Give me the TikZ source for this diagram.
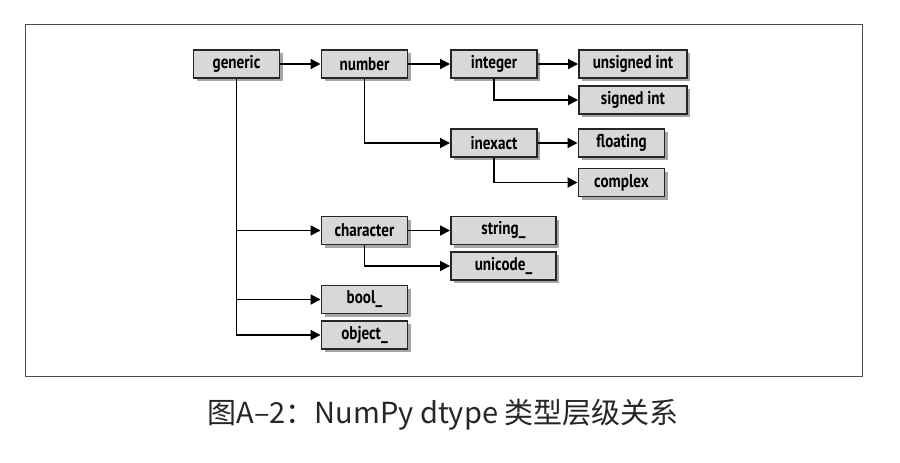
\documentclass[tikz,border=0pt]{standalone}
\usepackage{fontspec}
\setmainfont{PT Sans}[FakeStretch=0.82]
\newfontfamily\cjk{Noto Sans CJK SC}
\usetikzlibrary{calc}
\usetikzlibrary{positioning}
\usetikzlibrary{arrows.meta}
\usetikzlibrary{shadows}
\definecolor{boxgray}{RGB}{216,216,216}
\tikzstyle{typenode} = [draw=black!85, line width=1.1pt, fill=boxgray, minimum height=0.56cm, minimum width=1.72cm, inner sep=0pt, font=\fontsize{10.5}{12}\selectfont\bfseries, drop shadow={shadow xshift=0.06cm, shadow yshift=-0.06cm, opacity=0.35, fill=black}]
\tikzstyle{widenode} = [minimum width=2.16cm]
\tikzstyle{midnode} = [minimum width=2.1cm]
\tikzstyle{link} = [line width=1.05pt, -{Triangle[length=0.2cm, width=0.2cm]}]

\begin{document}
\begin{tikzpicture}
    \useasboundingbox (0,0) rectangle (18,-9.26);
    \draw[black!70, line width=0.5pt] (0.5,-0.48) rectangle (17.24,-7.52);
    \node[typenode] (n_generic) at (4.73,-1.28) {generic};
    \node[typenode] (n_number) at ($(n_generic)+(2.56,0)$) {number};
    \node[typenode] (n_integer) at ($(n_number)+(2.59,0)$) {integer};
    \node[typenode, widenode] (n_unsigned) at ($(n_integer)+(2.78,0)$) {unsigned int};
    \node[typenode, widenode] (n_signed) at ($(n_unsigned)+(0,-0.72)$) {signed int};
    \node[typenode] (n_inexact) at ($(n_integer)+(0,-1.58)$) {inexact};
    \node[typenode] (n_floating) at ($(n_inexact)+(2.55,0)$) {floating};
    \node[typenode] (n_complex) at ($(n_floating)+(0,-0.79)$) {complex};
    \node[typenode] (n_character) at ($(n_number)+(0,-3.33)$) {character};
    \node[typenode, midnode] (n_string) at ($(n_character)+(2.78,0)$) {string\_};
    \node[typenode, midnode] (n_unicode) at ($(n_string)+(0,-0.71)$) {unicode\_};
    \node[typenode] (n_bool) at ($(n_character)+(0,-1.38)$) {bool\_};
    \node[typenode] (n_object) at ($(n_bool)+(0,-0.71)$) {object\_};
    \draw[link] (n_generic) -- (n_number);
    \draw[link] (n_number) -- (n_integer);
    \draw[link] (n_integer) -- (n_unsigned);
    \draw[link] (n_integer.south) |- (n_signed.west);
    \draw[link] (n_number.south) |- (n_inexact.west);
    \draw[link] (n_inexact) -- (n_floating);
    \draw[link] (n_inexact.south) |- (n_complex.west);
    \draw[link] (n_generic.south) |- (n_character.west);
    \draw[link] (n_character) -- (n_string);
    \draw[link] (n_character.south) |- (n_unicode.west);
    \draw[link] (n_generic.south) |- (n_bool.west);
    \draw[link] (n_generic.south) |- (n_object.west);
    \node[font=\cjk\fontsize{16.5}{20}\selectfont, text=black!85] (caption) at (8.86,-8.3) {图A–2：NumPy dtype 类型层级关系};
\end{tikzpicture}
\end{document}
